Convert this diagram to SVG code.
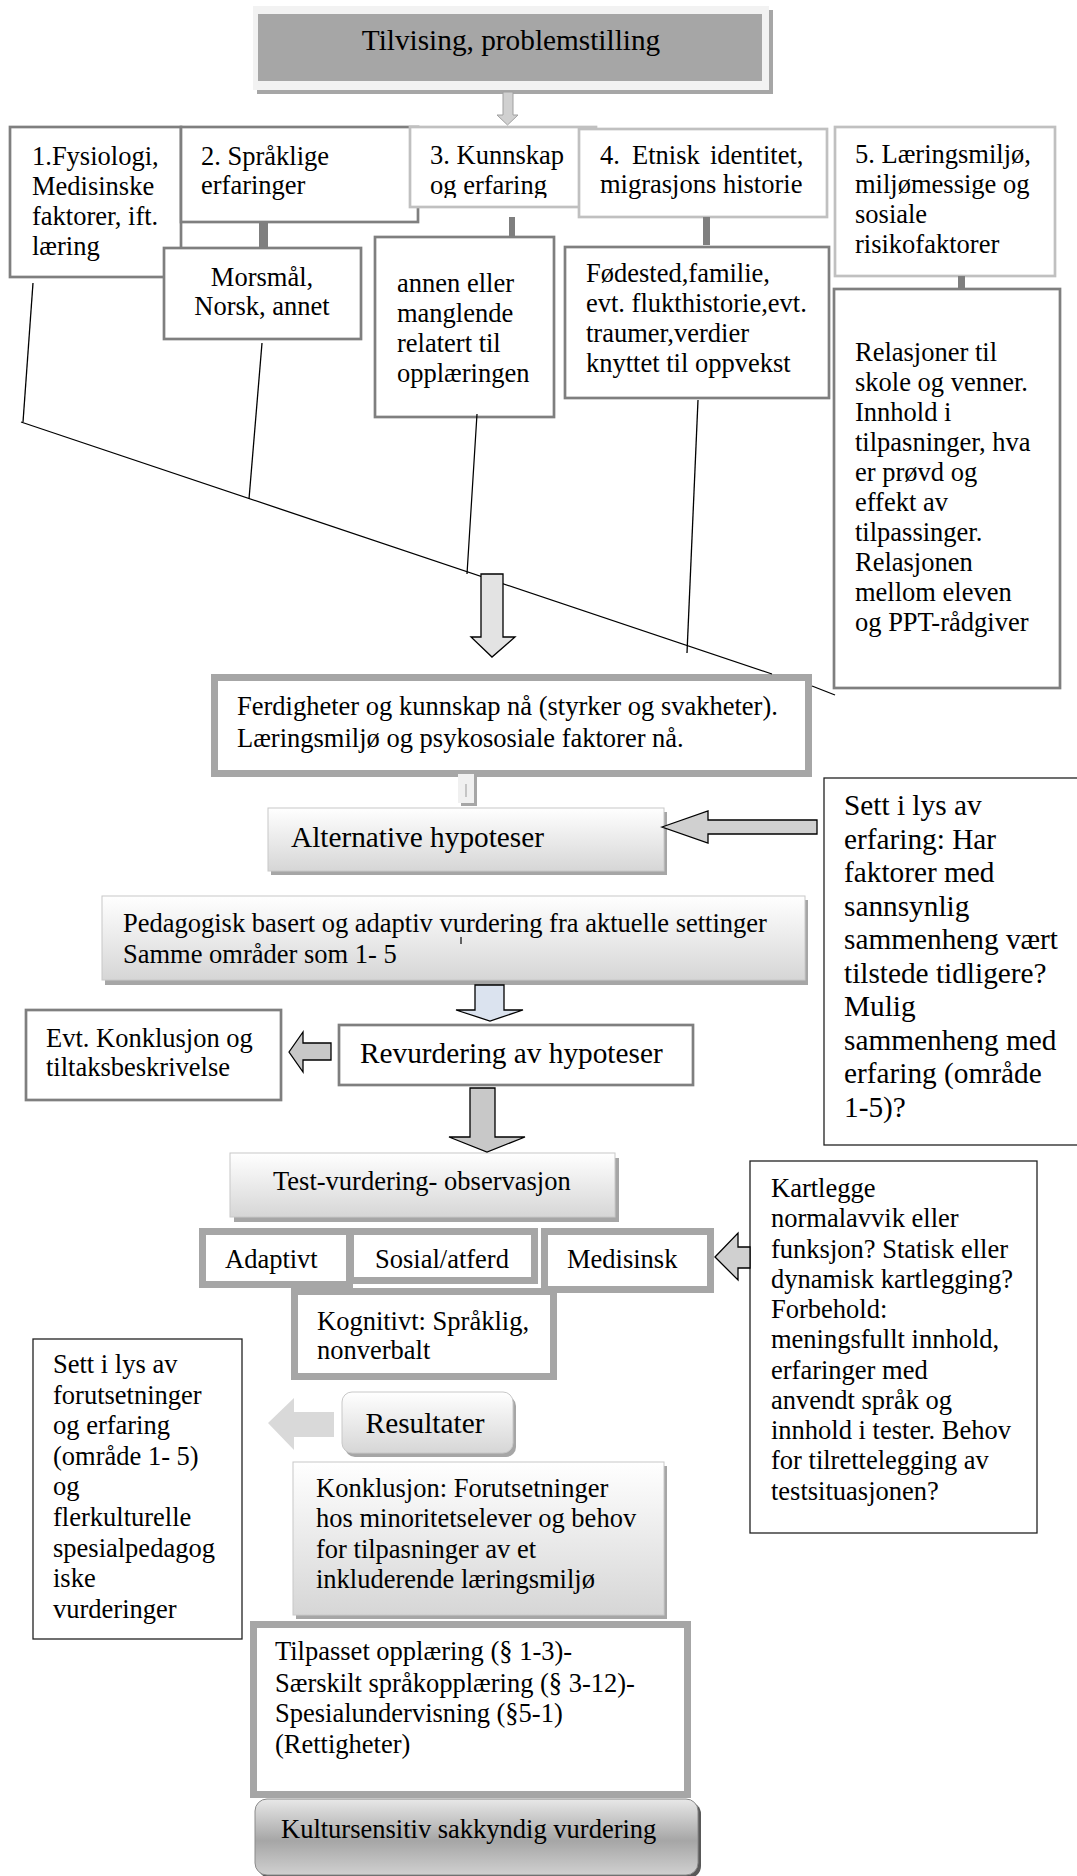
<svg xmlns="http://www.w3.org/2000/svg" width="1077" height="1876" viewBox="0 0 1077 1876">
<defs>
  <linearGradient id="gLight" x1="0" y1="0" x2="0" y2="1">
    <stop offset="0" stop-color="#ffffff"/>
    <stop offset="1" stop-color="#d6d6d6"/>
  </linearGradient>
  <linearGradient id="gDark" x1="0" y1="0" x2="0" y2="1">
    <stop offset="0" stop-color="#e8e8e8"/>
    <stop offset="0.55" stop-color="#a6a6a6"/>
    <stop offset="1" stop-color="#d0d0d0"/>
  </linearGradient>
  <clipPath id="clip3"><rect x="410" y="127" width="186" height="71"/></clipPath>
</defs>
<style>
  text { font-family: "Liberation Serif", "Times New Roman", serif; fill: #000; }
  .t { font-size: 26.5px; }
  .tl { font-size: 29.3px; }
  .dk { fill: #fff; stroke: #7f7f7f; stroke-width: 2.7; }
  .lt { fill: #fff; stroke: #c0c0c0; stroke-width: 2.7; }
  .thick { fill: #fff; stroke: #a6a6a6; stroke-width: 7; }
  .blk { fill: #fff; stroke: #222; stroke-width: 1.3; }
  .grad { fill: url(#gLight); stroke: #c8c8c8; stroke-width: 1; }
  .shadow { fill: #a6a6a6; }
  .bar { fill: #7f7f7f; }
  .ln { stroke: #000; stroke-width: 1.3; fill: none; }
  .arr { stroke: #000; stroke-width: 1.3; stroke-linejoin: miter; }
</style>

<g id="n-title">
  <rect x="257" y="10" width="516" height="84" fill="#a6a6a6"/>
  <rect x="253" y="6" width="516" height="84" fill="#f2f2f2"/>
  <rect x="258" y="14" width="504" height="67" fill="#a6a6a6"/>
  <text class="tl" x="511" y="50" text-anchor="middle">Tilvising, problemstilling</text>
</g>

<g id="n1">
  <rect class="dk" x="10" y="127" width="171" height="150"/>
  <text class="t"><tspan x="32" y="165">1.Fysiologi,</tspan><tspan x="32" y="195">Medisinske</tspan><tspan x="32" y="225">faktorer, ift.</tspan><tspan x="32" y="255">læring</tspan></text>
</g>

<g id="n2">
  <rect class="dk" x="181" y="127" width="237" height="95"/>
  <text class="t"><tspan x="201" y="165">2. Språklige</tspan><tspan x="201" y="194">erfaringer</tspan></text>
</g>

<g id="n3">
  <rect class="lt" x="410" y="127" width="186" height="80"/>
  <text class="t" clip-path="url(#clip3)"><tspan x="430" y="164">3. Kunnskap</tspan><tspan x="430" y="194">og erfaring</tspan></text>
</g>

<g id="n4">
  <rect class="lt" x="579" y="129" width="248" height="88"/>
  <text class="t"><tspan x="600" y="164">4.</tspan><tspan x="632" y="164">Etnisk</tspan><tspan x="710" y="164">identitet,</tspan><tspan x="600" y="193">migrasjons historie</tspan></text>
</g>

<g id="n5">
  <rect class="lt" x="835" y="127" width="220" height="149"/>
  <text class="t"><tspan x="855" y="163">5. Læringsmiljø,</tspan><tspan x="855" y="193">miljømessige og</tspan><tspan x="855" y="223">sosiale</tspan><tspan x="855" y="253">risikofaktorer</tspan></text>
</g>

<g id="n-morsmal">
  <rect class="dk" x="164" y="248" width="197" height="91"/>
  <text class="t" text-anchor="middle"><tspan x="262" y="286">Morsmål,</tspan><tspan x="262" y="315">Norsk, annet</tspan></text>
</g>

<g id="n-annen">
  <rect class="dk" x="375" y="237" width="179" height="180"/>
  <text class="t"><tspan x="397" y="292">annen eller</tspan><tspan x="397" y="322">manglende</tspan><tspan x="397" y="352">relatert til</tspan><tspan x="397" y="382">opplæringen</tspan></text>
</g>

<g id="n-fodested">
  <rect class="dk" x="565" y="247" width="264" height="151"/>
  <text class="t"><tspan x="586" y="282">Fødested,familie,</tspan><tspan x="586" y="312">evt. flukthistorie,evt.</tspan><tspan x="586" y="342">traumer,verdier</tspan><tspan x="586" y="372">knyttet til oppvekst</tspan></text>
</g>

<g id="n-relasjoner">
  <rect class="dk" x="834" y="289" width="226" height="399"/>
  <text class="t"><tspan x="855" y="361">Relasjoner til</tspan><tspan x="855" y="391">skole og venner.</tspan><tspan x="855" y="421">Innhold i</tspan><tspan x="855" y="451">tilpasninger, hva</tspan><tspan x="855" y="481">er prøvd og</tspan><tspan x="855" y="511">effekt av</tspan><tspan x="855" y="541">tilpassinger.</tspan><tspan x="855" y="571">Relasjonen</tspan><tspan x="855" y="601">mellom eleven</tspan><tspan x="855" y="631">og PPT-rådgiver</tspan></text>
</g>

<g id="n-ferdigheter">
  <rect class="thick" x="214.5" y="677.5" width="594" height="96"/>
  <text class="t"><tspan x="237" y="715">Ferdigheter og kunnskap nå (styrker og svakheter).</tspan><tspan x="237" y="747">Læringsmiljø og psykososiale faktorer nå.</tspan></text>
</g>

<g id="n-alternative">
  <rect class="shadow" x="271" y="812" width="396" height="63"/>
  <rect class="grad" x="268" y="808" width="396" height="63"/>
  <text class="tl" x="291" y="847">Alternative hypoteser</text>
</g>

<g id="n-sett1">
  <rect class="blk" x="824" y="778" width="270" height="367"/>
  <text class="tl"><tspan x="844" y="815">Sett i lys av</tspan><tspan x="844" y="848.5">erfaring: Har</tspan><tspan x="844" y="882">faktorer med</tspan><tspan x="844" y="915.5">sannsynlig</tspan><tspan x="844" y="949">sammenheng vært</tspan><tspan x="844" y="982.5">tilstede tidligere?</tspan><tspan x="844" y="1016">Mulig</tspan><tspan x="844" y="1049.5">sammenheng med</tspan><tspan x="844" y="1083">erfaring (område</tspan><tspan x="844" y="1116.5">1-5)?</tspan></text>
</g>

<g id="n-pedagogisk">
  <rect class="shadow" x="105" y="900" width="703" height="85"/>
  <rect class="grad" x="102" y="896" width="703" height="84"/>
  <text class="t"><tspan x="123" y="932">Pedagogisk basert og adaptiv vurdering fra aktuelle settinger</tspan><tspan x="123" y="963">Samme områder som 1- 5</tspan></text>
</g>

<g id="n-evt">
  <rect class="dk" x="26" y="1010" width="255" height="90" stroke-width="2.2"/>
  <text class="t"><tspan x="46" y="1047">Evt. Konklusjon og</tspan><tspan x="46" y="1076">tiltaksbeskrivelse</tspan></text>
</g>

<g id="n-revurdering">
  <rect class="dk" x="339" y="1025" width="354" height="60" stroke-width="2.2"/>
  <text class="tl" x="360" y="1063">Revurdering av hypoteser</text>
</g>

<g id="n-test">
  <rect class="shadow" x="234" y="1158" width="385" height="64"/>
  <rect class="grad" x="230" y="1153" width="385" height="64"/>
  <text class="t" x="273" y="1190">Test-vurdering- observasjon</text>
</g>

<g id="n-kognitivt">
  <rect class="thick" x="294.5" y="1291.5" width="259" height="85"/>
  <text class="t"><tspan x="317" y="1330">Kognitivt: Språklig,</tspan><tspan x="317" y="1359">nonverbalt</tspan></text>
</g>

<g id="n-adaptivt">
  <rect class="thick" x="202.5" y="1231.5" width="147" height="53"/>
  <text class="t" x="225" y="1268">Adaptivt</text>
</g>

<g id="n-sosial">
  <rect class="thick" x="350.5" y="1231.5" width="184" height="49"/>
  <text class="t" x="375" y="1268">Sosial/atferd</text>
</g>

<g id="n-medisinsk">
  <rect class="thick" x="544.5" y="1231.5" width="166" height="58"/>
  <text class="t" x="567" y="1268">Medisinsk</text>
</g>

<g id="n-kartlegge">
  <rect class="blk" x="750" y="1161" width="287" height="372" stroke-width="1.8"/>
  <text class="t"><tspan x="771" y="1197">Kartlegge</tspan><tspan x="771" y="1227">normalavvik eller</tspan><tspan x="771" y="1258">funksjon? Statisk eller</tspan><tspan x="771" y="1288">dynamisk kartlegging?</tspan><tspan x="771" y="1318">Forbehold:</tspan><tspan x="771" y="1348">meningsfullt innhold,</tspan><tspan x="771" y="1379">erfaringer med</tspan><tspan x="771" y="1409">anvendt språk og</tspan><tspan x="771" y="1439">innhold i tester. Behov</tspan><tspan x="771" y="1469">for tilrettelegging av</tspan><tspan x="771" y="1500">testsituasjonen?</tspan></text>
</g>

<g id="n-resultater">
  <rect class="shadow" x="345" y="1396" width="171" height="61" rx="10"/>
  <rect class="grad" x="342" y="1392" width="171" height="61" rx="10"/>
  <text class="tl" x="425" y="1433" text-anchor="middle">Resultater</text>
</g>

<g id="n-sett2">
  <rect class="blk" x="33" y="1339" width="209" height="300"/>
  <text class="t"><tspan x="53" y="1373">Sett i lys av</tspan><tspan x="53" y="1403.6">forutsetninger</tspan><tspan x="53" y="1434.2">og erfaring</tspan><tspan x="53" y="1464.8">(område 1- 5)</tspan><tspan x="53" y="1495.4">og</tspan><tspan x="53" y="1526">flerkulturelle</tspan><tspan x="53" y="1556.6">spesialpedagog</tspan><tspan x="53" y="1587.2">iske</tspan><tspan x="53" y="1617.8">vurderinger</tspan></text>
</g>

<g id="n-konklusjon">
  <rect class="shadow" x="296" y="1466" width="371" height="153"/>
  <rect class="grad" x="293" y="1462" width="371" height="153"/>
  <text class="t"><tspan x="316" y="1497">Konklusjon: Forutsetninger</tspan><tspan x="316" y="1527">hos minoritetselever og behov</tspan><tspan x="316" y="1558">for tilpasninger av et</tspan><tspan x="316" y="1588">inkluderende læringsmiljø</tspan></text>
</g>

<g id="n-tilpasset">
  <rect class="thick" x="253.5" y="1624.5" width="434" height="170"/>
  <text class="t"><tspan x="275" y="1660">Tilpasset opplæring (§ 1-3)-</tspan><tspan x="275" y="1692">Særskilt språkopplæring (§ 3-12)-</tspan><tspan x="275" y="1722">Spesialundervisning (§5-1)</tspan><tspan x="275" y="1753">(Rettigheter)</tspan></text>
</g>

<g id="n-kultur">
  <rect x="258" y="1802" width="443" height="76" rx="12" fill="#595959"/>
  <rect x="255" y="1799" width="443" height="76" rx="12" fill="url(#gDark)" stroke="#8a8a8a" stroke-width="1"/>
  <text class="t" x="281" y="1838">Kultursensitiv sakkyndig vurdering</text>
</g>

<g id="connectors">
  <rect class="bar" x="259" y="222" width="9" height="26"/>
  <rect class="bar" x="509" y="217" width="6" height="20"/>
  <rect class="bar" x="703" y="217" width="7" height="28"/>
  <rect class="bar" x="958" y="276" width="7" height="13"/>
  <line class="ln" x1="33" y1="283" x2="23" y2="422"/>
  <line class="ln" x1="262" y1="343" x2="249" y2="499"/>
  <line class="ln" x1="477" y1="414" x2="467" y2="574"/>
  <line class="ln" x1="698" y1="400" x2="687" y2="653"/>
  <line class="ln" x1="21" y1="422" x2="772" y2="674"/>
  <line class="ln" x1="812" y1="686" x2="835" y2="695"/>
  <polygon points="503,92 513,92 513,115 518,115 507.5,125 497,115 503,115" fill="#d0d0d0" stroke="#a0a0a0" stroke-width="1"/>
  <polygon class="arr" points="481,574 503,574 503,637 515,637 492,657 471,637 481,637" fill="#e3e3e3"/>
  <rect x="461" y="777" width="16" height="29" fill="#a6a6a6"/>
  <rect x="458" y="774" width="16" height="29" fill="#f0f0f0"/>
  <line x1="466" y1="784" x2="466" y2="797" stroke="#999" stroke-width="1"/>
  <polygon class="arr" points="662,827 708,811 708,820 817,820 817,834 708,834 708,843" fill="#d0d0d0"/>
  <line x1="461" y1="937" x2="461" y2="944" stroke="#333" stroke-width="1.5"/>
  <polygon class="arr" points="475,985 504,985 504,1010 523,1010 490,1021 456,1010 475,1010" fill="#dbe3ef"/>
  <polygon class="arr" points="289,1052 303,1032 303,1043 331,1043 331,1060 303,1060 303,1072" fill="#c8c8c8"/>
  <polygon class="arr" points="470,1088 495,1088 495,1137 525,1137 487,1152 449,1137 470,1137" fill="#c8c8c8"/>
  <polygon class="arr" points="715,1257 738,1233 738,1247 750,1247 750,1268 738,1268 738,1280" fill="#d0d0d0"/>
  <polygon points="268,1423 294,1398 294,1412 334,1412 334,1437 294,1437 294,1450" fill="#d9d9d9"/>
</g>
</svg>
